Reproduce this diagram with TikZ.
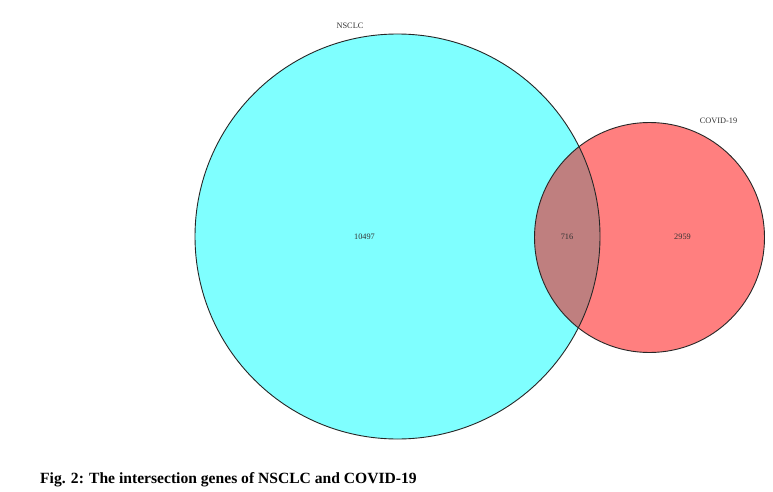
\documentclass[tikz,border=0pt]{standalone}
\usepackage{fontspec}
\setmainfont{Liberation Serif}
\definecolor{vcyan}{RGB}{0,255,255}
\definecolor{vred}{RGB}{255,0,0}
\begin{document}
\begin{tikzpicture}[x=1pt,y=-1pt,
  lbl/.style={font=\fontsize{8.3}{9}\selectfont,text=black!80,inner sep=0pt},
  captext/.style={font=\bfseries\fontsize{15.6}{17}\selectfont,anchor=west,inner sep=0pt}]
\useasboundingbox[fill=white] (0,0) rectangle (773,492);
\fill[vcyan,opacity=0.5] (397.5,236.5) circle (202.5);
\fill[vred,opacity=0.5] (649.5,237.5) circle (115);
\draw[black!85,line width=0.9pt] (397.5,236.5) circle (202.5);
\draw[black!85,line width=0.9pt] (649.5,237.5) circle (115);
\node[lbl] (nsclc) at (350,26) {NSCLC};
\node[lbl] (covid) at (718.5,121) {COVID-19};
\node[lbl] (a) at (364.5,237) {10497};
\node[lbl] (b) at (567,237) {716};
\node[lbl] (c) at (682.5,237) {2959};
\node[captext] (caption) at (40,480) {Fig. 2: The intersection genes of NSCLC and COVID-19};
\end{tikzpicture}
\end{document}
